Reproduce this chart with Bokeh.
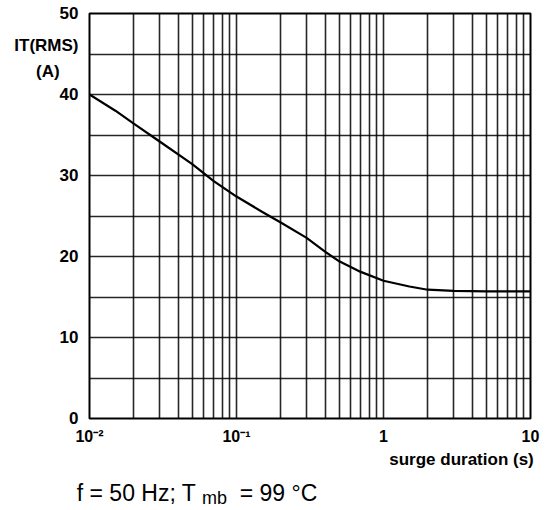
from bokeh.plotting import figure
from bokeh.models import FixedTicker, Range1d, Title, LinearAxis, LinearScale
from bokeh.embed import file_html
from bokeh.resources import INLINE

# ---- data ----
duration_s = [0.01, 0.015, 0.02, 0.03, 0.05, 0.07, 0.1, 0.15, 0.2, 0.3, 0.4, 0.5,
              0.7, 1.0, 1.5, 2.0, 3.0, 5.0, 10.0]
i_rms_a = [40.0, 38.0, 36.4, 34.2, 31.4, 29.3, 27.4, 25.5, 24.2, 22.3, 20.6, 19.4,
           18.1, 17.0, 16.3, 15.9, 15.75, 15.7, 15.7]

x_major_ticks = [0.01, 0.1, 1.0, 10.0]
x_tick_labels = ["10⁻²", "10⁻¹", "1", "10"]
y_major_ticks = [0, 10, 20, 30, 40, 50]
y_grid_ticks = [0, 5, 10, 15, 20, 25, 30, 35, 40, 45, 50]
x_grid_ticks = [m * 10.0 ** e for e in (-2, -1, 0) for m in range(1, 10)] + [10.0]

# y-axis title, written as two extra labels of the y axis (value -> text)
y_title_ticks = [46.0, 42.9]
y_title_texts = ["IT(RMS)", "(A)\u00a0\u00a0\u00a0\u00a0"]
x_title = "surge duration  (s)"
# footer: main text pieces and the subscript, placed on a pixel-scaled strip axis
footer_main_pos = [136, 278]
footer_main_texts = ["f = 50 Hz; T", "= 99 °C"]
footer_sub_pos = [214]
footer_sub_texts = ["mb"]

FONT = "Liberation Sans"
W, H = 550, 510
LEFT, RIGHT, TOP, BOTTOM = 89, 530, 13, 418

p = figure(width=W, height=H, x_axis_type="log",
           x_range=Range1d(0.01, 10), y_range=Range1d(0, 50),
           output_backend="svg", toolbar_location=None,
           min_border_left=LEFT, min_border_right=W - RIGHT,
           min_border_top=TOP, min_border_bottom=H - BOTTOM)
p.background_fill_color = "white"
p.border_fill_color = "white"
p.outline_line_color = "black"
p.outline_line_width = 2

# grids
p.xgrid.ticker = FixedTicker(ticks=x_grid_ticks)
p.ygrid.ticker = FixedTicker(ticks=y_grid_ticks)
for g in (p.xgrid, p.ygrid):
    g.grid_line_color = "black"
    g.grid_line_width = 1.6
    g.grid_line_alpha = 0.85

# axes
p.xaxis.ticker = FixedTicker(ticks=x_major_ticks)
p.xaxis.major_label_overrides = {t: s for t, s in zip(x_major_ticks, x_tick_labels)}
p.yaxis.ticker = FixedTicker(ticks=y_major_ticks + y_title_ticks)
p.yaxis.major_label_overrides = {t: s for t, s in zip(y_title_ticks, y_title_texts)}


def style_axis(ax, size, bold=True, standoff=5):
    ax.axis_line_color = None
    ax.major_tick_line_color = None
    ax.minor_tick_line_color = None
    ax.major_tick_out = 0
    ax.major_tick_in = 0
    ax.major_label_text_font = FONT
    ax.major_label_text_color = "black"
    ax.major_label_text_font_size = size
    ax.major_label_text_font_style = "bold" if bold else "normal"
    ax.major_label_standoff = standoff


style_axis(p.yaxis[0], "17px", True, 11)
style_axis(p.xaxis[0], "16px", True, 9)

p.add_layout(Title(text=x_title, align="right", text_font=FONT,
                   text_font_size="17px", text_font_style="bold",
                   text_color="black", standoff=1, offset=-8), "below")

# footer strip: an extra x range in page pixels across the frame
p.extra_x_ranges = {"foot": Range1d(LEFT, RIGHT)}
p.extra_x_scales = {"foot": LinearScale()}
foot_sub = LinearAxis(x_range_name="foot", ticker=FixedTicker(ticks=footer_sub_pos),
                      major_label_overrides=dict(zip(footer_sub_pos, footer_sub_texts)))
style_axis(foot_sub, "18px", False, 18)
foot_main = LinearAxis(x_range_name="foot", ticker=FixedTicker(ticks=footer_main_pos),
                       major_label_overrides=dict(zip(footer_main_pos, footer_main_texts)))
style_axis(foot_main, "23px", False, -31)
p.add_layout(foot_sub, "below")
p.add_layout(foot_main, "below")

# curve
p.line(duration_s, i_rms_a, line_color="black", line_width=2.2)

open("out.html", "w").write(file_html(p, INLINE))
